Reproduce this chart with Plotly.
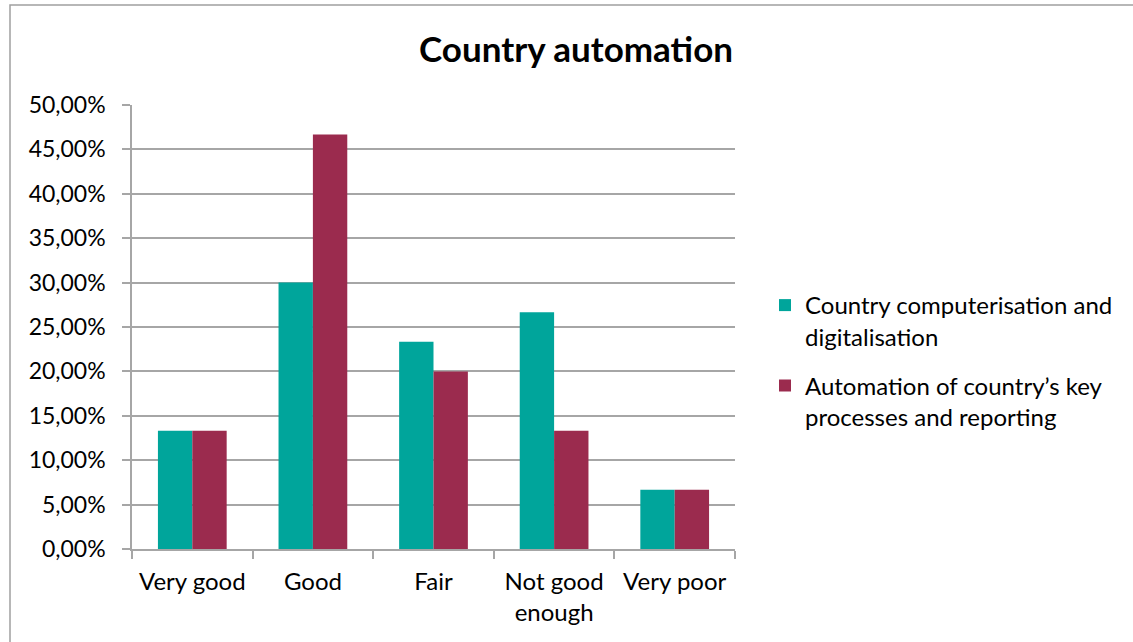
import plotly.graph_objects as go

categories = ["Very good", "Good", "Fair", "Not good<br>enough", "Very poor"]
computerisation = [13.33, 30.00, 23.33, 26.67, 6.67]
automation = [13.33, 46.67, 20.00, 13.33, 6.67]
series_names = [
    "Country computerisation and<br>digitalisation",
    "Automation of country’s key<br>processes and reporting",
]
y_ticks = [0, 5, 10, 15, 20, 25, 30, 35, 40, 45, 50]
y_tick_text = [f"{v:.2f}%".replace(".", ",") for v in y_ticks]

W, H = 1133, 642
L, R, T, B = 132, 398, 105, 93
FONT = "Lato"
GRID = "#a6a6a6"

fig = go.Figure()
fig.add_trace(go.Bar(x=categories, y=computerisation, name=series_names[0],
                     legendgroup="g1",
                     marker=dict(color="#00a59b", line=dict(width=0))))
fig.add_trace(go.Bar(x=categories, y=automation, name=series_names[1],
                     legendgroup="g2",
                     marker=dict(color="#9b2b4e", line=dict(width=0))))

pw, ph = W - L - R, H - T - B
# chart frame (left and top edges visible)
fig.add_shape(type="rect", xref="paper", yref="paper",
              x0=(10 - L) / pw, x1=(W + 20 - L) / pw,
              y0=-(H + 20 - T - ph) / ph, y1=1 + (T - 5) / ph,
              line=dict(color="#a0a0a0", width=1.5), fillcolor="rgba(0,0,0,0)",
              layer="below")

fig.update_layout(
    width=W, height=H,
    margin=dict(l=L, r=R, t=T, b=B),
    paper_bgcolor="white", plot_bgcolor="white",
    barmode="group", bargap=0.43, bargroupgap=0,
    font=dict(family=FONT, size=23, color="#000000"),
    title=dict(text="<b>Country automation</b>", x=576 / W, xanchor="center",
               y=1 - 50 / H, yanchor="middle",
               font=dict(family=FONT, size=35, color="#000000")),
    legend=dict(xref="container", yref="container", x=765 / W, xanchor="left",
                y=1 - 361 / H, yanchor="middle", tracegroupgap=15,
                valign="top", traceorder="grouped",
                font=dict(family=FONT, size=24), itemwidth=30),
    xaxis=dict(showline=True, linecolor=GRID, linewidth=1.5,
               ticks="outside", ticklen=8, tickcolor=GRID, tickwidth=1.5,
               tickson="boundaries", showgrid=False, ticklabelstandoff=10,
               tickfont=dict(family=FONT, size=24)),
    yaxis=dict(range=[0, 50], tickvals=y_ticks, ticktext=y_tick_text,
               showline=True, linecolor=GRID, linewidth=1.5,
               ticks="outside", ticklen=8, tickcolor=GRID, tickwidth=1.5,
               showgrid=True, gridcolor=GRID, gridwidth=1.5, zeroline=False,
               ticklabelstandoff=12,
               tickfont=dict(family=FONT, size=23)),
)

fig.write_html("out.html")
